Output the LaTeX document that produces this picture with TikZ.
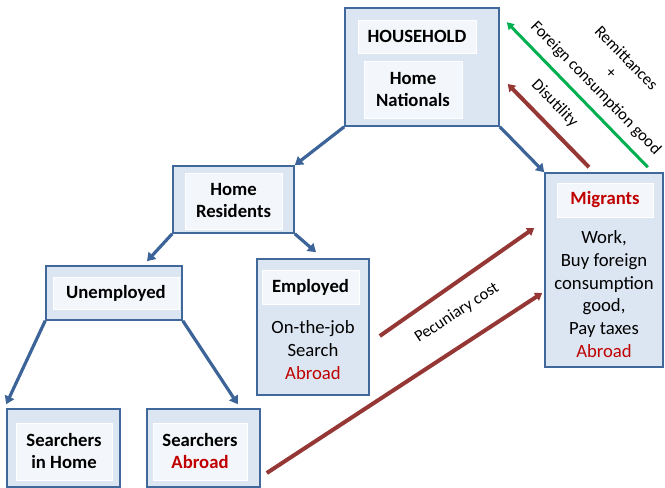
\documentclass[tikz,border=0pt]{standalone}
\usepackage{fontspec}
\setmainfont{Carlito}
\usetikzlibrary{arrows.meta,shadows}
\definecolor{boxblue}{HTML}{DCE6F2}
\definecolor{edgeblue}{HTML}{41689B}
\definecolor{arrowblue}{HTML}{3C6498}
\definecolor{arrowred}{HTML}{953735}
\definecolor{arrowgreen}{HTML}{00B050}
\definecolor{textred}{HTML}{C00000}
\definecolor{innerfill}{HTML}{F3F6FA}
\begin{document}
\begin{tikzpicture}[x=1pt,y=1pt,
    outbox/.style={draw=edgeblue,line width=1.6pt,fill=boxblue,inner sep=0pt},
    inbox/.style={draw=white,line width=0.8pt,fill=innerfill,inner sep=0pt,align=center,
      drop shadow={shadow xshift=1pt,shadow yshift=-1.2pt,opacity=0.35,fill=black!60},
      font=\fontsize{18.7}{22}\selectfont\bfseries},
    bodytext/.style={align=center,font=\fontsize{18.7}{22.8}\selectfont},
    lbl/.style={align=center,inner sep=0pt,font=\fontsize{16.5}{21}\selectfont},
    treearrow/.style={draw=arrowblue,line width=3.2pt,-{Triangle[length=8pt,width=10pt]}},
    costarrow/.style={draw=arrowred,line width=4pt,-{Triangle[length=7pt,width=9pt]}},
    goodarrow/.style={draw=arrowgreen,line width=3pt,-{Triangle[length=7pt,width=8pt]}}]
  \useasboundingbox (0,0) rectangle (665,488);
  % outer boxes
  \node[outbox,minimum width=154pt,minimum height=118pt] (hh) at (422,421) {};
  \node[outbox,minimum width=121pt,minimum height=67pt] (hr) at (233.5,288.5) {};
  \node[outbox,minimum width=112pt,minimum height=136pt] (emp) at (313,161) {};
  \node[outbox,minimum width=136pt,minimum height=54pt] (un) at (114,195) {};
  \node[outbox,minimum width=113pt,minimum height=78pt] (sh) at (63.5,40) {};
  \node[outbox,minimum width=113pt,minimum height=78pt] (sa) at (203.5,40) {};
  \node[outbox,minimum width=118pt,minimum height=194pt] (mig) at (604,218) {};
  % titles
  \node[inbox,minimum width=118pt,minimum height=33pt] (hhtitle) at (417,451.5) {HOUSEHOLD};
  \node[inbox,minimum width=98pt,minimum height=57pt] (hn) at (413,398.5) {Home\\Nationals};
  \node[inbox,minimum width=97pt,minimum height=56pt] (hrtitle) at (233.5,287) {Home\\Residents};
  \node[inbox,minimum width=97pt,minimum height=34pt] (emptitle) at (310.5,201) {Employed};
  \node[inbox,minimum width=126pt,minimum height=32pt] (untitle) at (116,195) {Unemployed};
  \node[inbox,minimum width=96pt,minimum height=57pt] (shtitle) at (64,36.5) {Searchers\\in Home};
  \node[inbox,minimum width=94pt,minimum height=57pt] (satitle) at (200,36.5) {Searchers\\\textcolor{textred}{Abroad}};
  \node[inbox,minimum width=96pt,minimum height=34pt] (migtitle) at (605,288) {\textcolor{textred}{Migrants}};
  \node[bodytext] (emptext) at (313,138) {On-the-job\\Search\\\textcolor{textred}{Abroad}};
  \node[bodytext] (migtext) at (604,194) {Work,\\Buy foreign\\consumption\\good,\\Pay taxes\\\textcolor{textred}{Abroad}};
  % tree
  \draw[treearrow] (hh.south west) -- (hr.north east);
  \draw[treearrow] (hh.south east) -- (mig.north west);
  \draw[treearrow] (hr.south west) -- ([xshift=33pt,yshift=4pt]un.north);
  \draw[treearrow] (hr.south east) -- ([xshift=3pt,yshift=6pt]emp.north);
  \draw[treearrow] (un.south west) -- ([yshift=4pt]sh.north west);
  \draw[treearrow] (un.south east) -- ([xshift=-23pt,yshift=4pt]sa.north east);
  % flows
  \draw[costarrow] ([shift={(10pt,-9pt)}]emp.east) -- ([shift={(-10pt,42pt)}]mig.west);
  \draw[costarrow] ([shift={(6pt,-25pt)}]sa.east) -- ([shift={(-2pt,-23pt)}]mig.west)
    node[lbl,pos=0.75,sloped,above=21pt] {Pecuniary cost};
  \draw[costarrow] ([shift={(-15pt,5pt)}]mig.north) -- ([shift={(8pt,-17pt)}]hh.east)
    node[lbl,pos=0.6,sloped,above=11pt] {Disutility};
  \draw[goodarrow] ([shift={(-16pt,5pt)}]mig.north east) -- ([shift={(7pt,-15pt)}]hh.north east)
    node[lbl,pos=0.46,sloped,above=9pt] {Remittances\\+\\Foreign consumption good};
\end{tikzpicture}
\end{document}
